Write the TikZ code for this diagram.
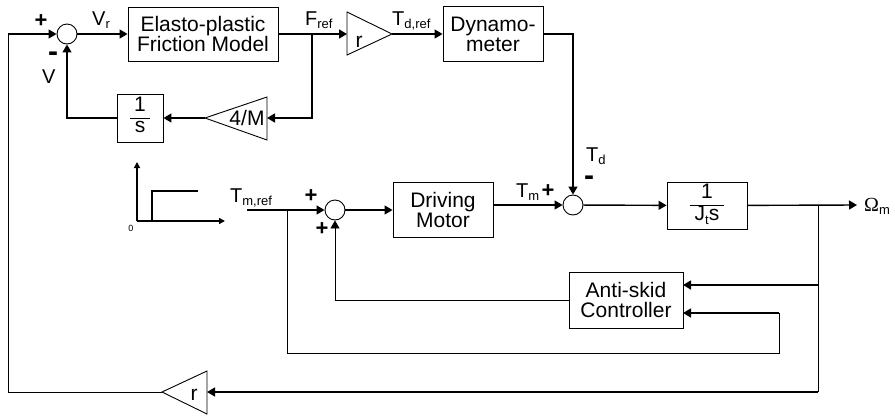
\documentclass[tikz,border=0pt]{standalone}
\usepackage{fontspec}
\setmainfont{Liberation Sans}
\newfontfamily\omfont{Liberation Serif}
\usetikzlibrary{arrows.meta}
\newcommand{\sbs}[1]{\raisebox{-3.5pt}{\fontsize{13}{13}\selectfont #1}}
\begin{document}
\begin{tikzpicture}[x=1pt,y=-1pt,
  every node/.style={font=\fontsize{21}{20}\selectfont},
  blk/.style={draw,line width=0.9pt,inner sep=0pt,align=center},
  sumj/.style={draw,circle,line width=0.9pt,minimum size=20pt,inner sep=0pt},
  conn/.style={line width=1.4pt},
  thin/.style={line width=0.8pt},
  arr/.style={-{Triangle[length=8pt,width=9pt]}},
  sarr/.style={-{Triangle[length=6pt,width=6pt]}},
  lbl/.style={inner sep=0pt,anchor=base west,font=\fontsize{20}{20}\selectfont},
  sgn/.style={inner sep=0pt,font=\fontsize{22}{22}\selectfont\bfseries},
  mns/.style={inner sep=0pt,font=\fontsize{30}{30}\selectfont\bfseries},
  tri/.style={draw,line width=0.9pt,line join=miter}
]
\useasboundingbox (0,0) rectangle (895,416);
\setlength{\arrayrulewidth}{1.2pt}
% ---------------- top loop ----------------
\node[sumj] (s1) at (67,34) {};
\node[blk,minimum width=150,minimum height=54] (fric) at (203,34) {Elasto-plastic\\Friction Model};
\node[blk,minimum width=100,minimum height=55] (dyn) at (493,34) {Dynamo-\\meter};
\node[blk,minimum width=46,minimum height=48] (inv) at (140,118)
  {\begin{tabular}{@{\hspace{4pt}}c@{\hspace{4pt}}}1\\\hline s\end{tabular}};
% gain r (top)
\coordinate (rtA) at (347,12);
\coordinate (rtB) at (347,55);
\coordinate (rtt) at (392,34);
\coordinate (rtb) at (347,34);
\draw[tri] (rtA) -- (rtt) -- (rtB) -- cycle;
\node[inner sep=0pt,anchor=base] (rtl) at (359,47) {r};
% gain 4/M
\coordinate (mA) at (267,97);
\coordinate (mB) at (267,140);
\coordinate (mtt) at (205,118);
\coordinate (mtb) at (267,118);
\draw[tri] (mA) -- (mtt) -- (mB) -- cycle;
\node[inner sep=0pt] (mtl) at (247,118) {4/M};
% connectors
\coordinate (L1) at (8,34);
\coordinate (F1) at (312,34);
\draw[conn,arr] (L1) -- (s1);
\draw[conn,arr] (s1) -- (fric);
\draw[conn,arr] (fric) -- (rtb);
\draw[conn,arr] (rtt) -- (dyn);
\draw[conn,arr] (F1) |- (mtb);
\draw[conn,arr] (mtt) -- (inv);
\draw[conn,arr] (inv) -| (s1);
% labels
\node[sgn] (p1) at (41,21) {+};
\node[lbl] (vr) at (92,25) {V\sbs{r}};
\node[mns] (m1) at (53,57) {-};
\node[lbl] (vv) at (42,83) {V};
\node[lbl] (fref) at (305,25) {F\sbs{ref}};
\node[lbl] (tdref) at (392,25) {T\sbs{d,ref}};
% ---------------- step input ----------------
\coordinate (O) at (137,221);
\coordinate (YA) at (137,162);
\coordinate (XA) at (225,221);
\draw[conn,sarr] (O) -- (YA);
\draw[conn,sarr] (O) -- (XA);
\draw[conn] (152,221) -- (152,191) -- (198,191);
\node[inner sep=0pt,font=\fontsize{9}{9}\selectfont] (zero) at (131,228) {0};
% ---------------- middle row ----------------
\node[sumj] (s2) at (335,210) {};
\node[blk,minimum width=100,minimum height=55] (motor) at (443,210) {Driving\\Motor};
\node[sumj] (s3) at (573,205) {};
\node[blk,minimum width=80,minimum height=47] (jt) at (707,205.5)
  {\begin{tabular}{@{\hspace{5pt}}c@{\hspace{5pt}}}1\\\hline J\sbs{t}s\end{tabular}};
\node[blk,minimum width=114,minimum height=56] (anti) at (626,300) {Anti-skid\\Controller};
\coordinate (T0) at (247,210);
\coordinate (B1) at (287,210);
\coordinate (B2) at (287,353);
\coordinate (B3) at (779,353);
\coordinate (B4) at (779,313);
\coordinate (A2) at (683,313);
\coordinate (A1) at (683,285);
\coordinate (R1) at (818,205);
\coordinate (R2) at (818,285);
\coordinate (R3) at (818,392);
\coordinate (OUT) at (857,205);
\draw[conn,arr] (T0) -- (s2);
\draw[conn,arr] (s2) -- (motor);
\draw[conn,arr] (motor.east |- s3) -- (s3);
\draw[conn,arr] (s3) -- (jt);
\draw[conn,arr] (jt) -- (OUT);
\draw[conn,arr] (dyn) -| (s3);
\draw[thin] (B1) -- (B2) -- (B3) -- (B4);
\draw[conn,arr] (B4) -- (A2);
\draw[thin] (R1) -- (R3);
\draw[conn,arr] (R2) -- (A1);
\draw[thin,arr] (anti) -| (s2);
% gain r (bottom)
\coordinate (rbA) at (207,371);
\coordinate (rbB) at (207,414);
\coordinate (rbt) at (162,392);
\coordinate (rbb) at (207,392);
\draw[tri] (rbA) -- (rbt) -- (rbB) -- cycle;
\node[inner sep=0pt,anchor=base] (rbl) at (194,400) {r};
\coordinate (LB) at (8,392);
\draw[conn,arr] (R3) -- (rbb);
\draw[thin] (rbt) -- (LB) -- (L1);
% labels
\node[lbl] (tmref) at (230,202) {T\sbs{m,ref}};
\node[sgn] (p2) at (311,196) {+};
\node[sgn] (p3) at (322,229) {+};
\node[lbl] (tm) at (516,197) {T\sbs{m}};
\node[sgn] (p4) at (548,191) {+};
\node[lbl] (td) at (586,161) {T\sbs{d}};
\node[mns] (m2) at (589,181) {-};
\node[lbl,font=\fontsize{20}{20}\omfont] (om) at (864,211) {Ω\sbs{\rmfamily m}};
\end{tikzpicture}
\end{document}
